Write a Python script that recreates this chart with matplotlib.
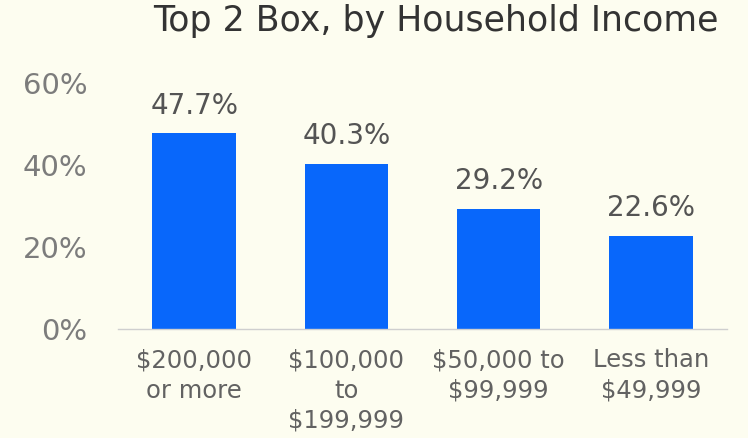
import matplotlib
matplotlib.use("Agg")
import matplotlib.pyplot as plt
import numpy as np

# data
categories = ["$200,000\nor more", "$100,000\nto\n$199,999",
              "$50,000 to\n$99,999", "Less than\n$49,999"]
values = [47.7, 40.3, 29.2, 22.6]
yticks = [0, 20, 40, 60]

BG = "#FDFDF0"
BAR = "#0867FB"

plt.rcParams["font.family"] = ["DejaVu Sans"]

fig = plt.figure(figsize=(7.48, 4.38), dpi=100, facecolor=BG)
ax = fig.add_axes([118 / 748, 1 - 329 / 438, 609 / 748, 246 / 438])
ax.set_facecolor(BG)

x = np.arange(len(categories))
bars = ax.bar(x, values, width=0.55, color=BAR, zorder=2)
for b, v in zip(bars, values):
    ax.text(b.get_x() + b.get_width() / 2, v + 6.8, f"{v:.1f}%",
            ha="center", va="center", fontsize=20, color="#545454")

ax.set_xlim(-0.5, len(categories) - 0.5)
ax.set_ylim(0, 60)
ax.set_yticks(yticks)
ax.set_yticklabels([f"{t}%" for t in yticks], fontsize=21, color="#7c7c7c")
ax.set_xticks(x)
ax.set_xticklabels(categories, fontsize=17.5, color="#626262",
                   linespacing=1.32, va="top")
ax.tick_params(axis="both", length=0)
ax.tick_params(axis="y", pad=22)
ax.tick_params(axis="x", pad=14)
for s in ["top", "right", "left"]:
    ax.spines[s].set_visible(False)
ax.spines["bottom"].set_color("#cfcfcf")
ax.spines["bottom"].set_linewidth(1)

fig.text(436 / 748, 1 - 21 / 438, "Top 2 Box, by Household Income",
         ha="center", va="center", fontsize=25, color="#333333")

fig.savefig("out.png", dpi=100, facecolor=BG)
